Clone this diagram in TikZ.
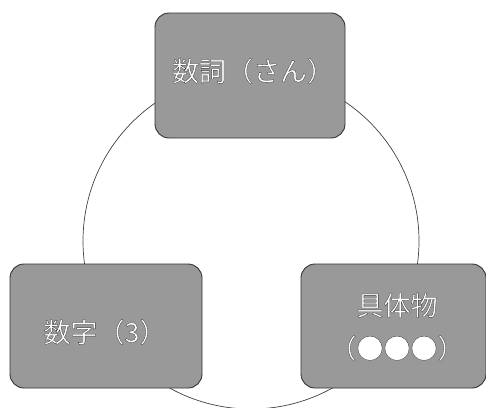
\documentclass[tikz,border=0pt]{standalone}
\usepackage{fontspec}
\newfontfamily\jp{Noto Sans CJK JP}

% white glyphs with a thin dark outline (fill + stroke text rendering)
\newcommand\rimmed[1]{%
  \special{pdf:literal direct 2 Tr 0.3 w 0.2 0.2 0.2 RG}#1%
  \special{pdf:literal direct 0 Tr 0.4 w}}

\begin{document}
\begin{tikzpicture}[x=1pt,y=-1pt,
  card/.style={draw=black!80, line width=0.9pt, fill=black!40,
    rounded corners=14pt, inner sep=0pt},
  cardtext/.style={font=\jp\fontsize{27}{43}\selectfont, text=white,
    align=center, inner sep=0pt},
  ring/.style={draw=black!75, line width=0.7pt}]
\useasboundingbox (0,0) rectangle (486,407);

% ring linking the three cards, drawn first so the cards cover it
\coordinate (hub) at (251,241);
\draw[ring] (hub) circle[radius=168];

% cards
\node[card, minimum width=190pt, minimum height=125pt] (word)  at (250,75.5) {};
\node[card, minimum width=192pt, minimum height=124pt] (digit) at (106,326) {};
\node[card, minimum width=185pt, minimum height=124pt] (thing) at (393.5,326) {};

% labels
\node[cardtext] (wordtext)  at (253,71)  {\rimmed{数詞（さん）}};
\node[cardtext] (digittext) at (105,332) {\rimmed{数字（3）}};
\node[cardtext] (thingtext) at (397,327) {\rimmed{具体物}\\\rimmed{（●●●）}};
\end{tikzpicture}
\end{document}
